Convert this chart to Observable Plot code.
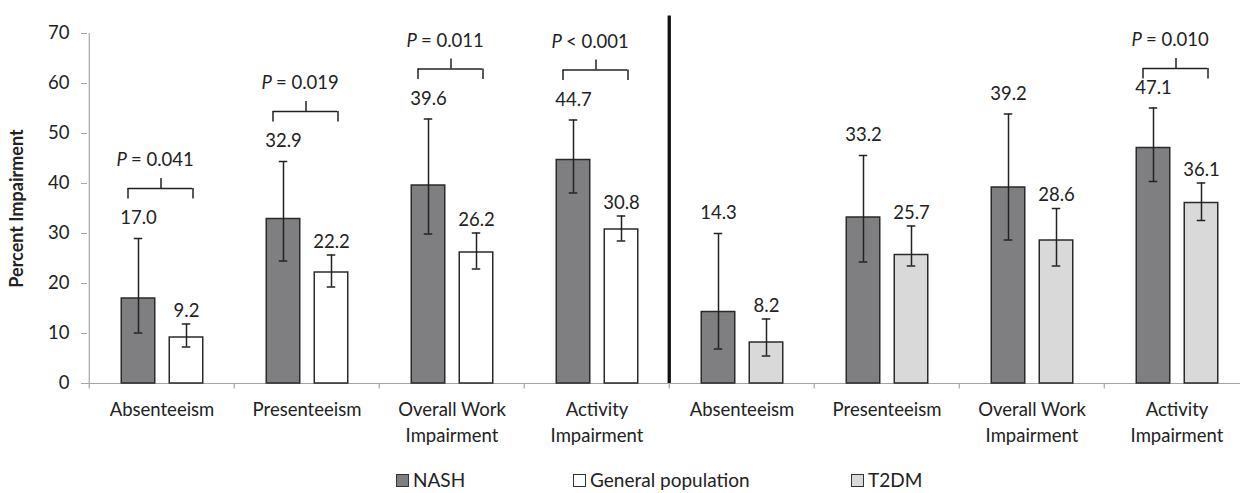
<!DOCTYPE html>
<html>
<head>
<meta charset="utf-8">
<script src="https://cdn.jsdelivr.net/npm/d3@7"></script>
<script src="https://cdn.jsdelivr.net/npm/@observablehq/plot@0.6"></script>
<style>
  body { margin: 0; background: #fff; font-family: Lato, sans-serif; color: #222; overflow: hidden; }
  #legend { height: 20px; line-height: 20px; padding-top: 15px; display: flex; align-items: center; padding-left: 396px; font-size: 19px; }
  .item { display: inline-flex; align-items: center; }
  .swatch { width: 13px; height: 13px; border: 1px solid #333; margin-right: 4px; box-sizing: border-box; }
</style>
</head>
<body>
<div id="chart"></div>
<div id="legend"></div>
<script>
// Work productivity and activity impairment (WPAI), NASH vs comparators
const panels = ["NASH vs General population", "NASH vs T2DM"];
const metrics = ["Absenteeism", "Presenteeism", "Overall Work\nImpairment", "Activity\nImpairment"];
const comparators = ["General population", "General population", "General population", "General population",
                     "T2DM", "T2DM", "T2DM", "T2DM"];

const nashValues = [17.0, 32.9, 39.6, 44.7, 14.3, 33.2, 39.2, 47.1];
const nashLow    = [10.1, 24.5, 29.9, 38.1,  6.9, 24.3, 28.7, 40.4];
const nashHigh   = [29.0, 44.4, 52.9, 52.7, 30.0, 45.6, 53.9, 55.1];

const compValues = [ 9.2, 22.2, 26.2, 30.8,  8.2, 25.7, 28.6, 36.1];
const compLow    = [ 7.3, 19.3, 22.9, 28.5,  5.5, 23.5, 23.5, 32.6];
const compHigh   = [11.9, 25.7, 30.1, 33.5, 12.9, 31.5, 35.0, 40.1];

const pSign  = ["=", "=", "=", "<", null, null, null, "="];
const pValue = ["0.041", "0.019", "0.011", "0.001", null, null, null, "0.010"];

const yTicks = [0, 10, 20, 30, 40, 50, 60, 70];
const yLabel = "Percent Impairment";
const series = ["NASH", "General population", "T2DM"];
const seriesFill = ["#7f7f82", "#ffffff", "#d9d9d9"];

// one row per category group
const rows = nashValues.map((v, i) => ({
  key: panels[Math.floor(i / 4)] + "|" + metrics[i % 4],
  label: metrics[i % 4],
  comparator: comparators[i],
  nash: v, nashLow: nashLow[i], nashHigh: nashHigh[i],
  comp: compValues[i], compLow: compLow[i], compHigh: compHigh[i],
  pSign: pSign[i], pValue: pValue[i]
}));
const keys = rows.map(d => d.key);
const pRows = rows.filter(d => d.pValue != null)
  .map(d => ({...d, bracket: Math.min(d.nashHigh + 10, 63)}));

// layout within each category band
const left = 87, step = 145.5, half = step / 2;
const barW = 34, capW = 9;
const nashDx = -23.5, compDx = 24.5;
const inset = dx => ({insetLeft: half + dx - barW / 2, insetRight: half - dx - barW / 2});
const capInset = dx => ({insetLeft: half + dx - capW / 2, insetRight: half - dx - capW / 2});

const axisGray = "#a6a6a6", ink = "#222", fs = 18.5;

const chart = Plot.plot({
  width: 1240,
  height: 455,
  marginLeft: left,
  marginRight: 0,
  marginTop: 33,
  marginBottom: 72,
  style: {fontFamily: "Lato, sans-serif", fontSize: fs + "px", color: ink, background: "#fff"},
  x: {type: "band", domain: keys, range: [left, left + step * keys.length], padding: 0, axis: null},
  y: {domain: [0, 70]},
  color: {domain: series, range: seriesFill},
  marks: [
    Plot.axisY(yTicks, {tickSize: 6, tickPadding: 12, stroke: axisGray, fill: ink, fontSize: fs, label: null}),
    Plot.text([yLabel], {frameAnchor: "left", textAnchor: "middle", rotate: -90, dx: -70, fontWeight: "bold", fontSize: 18, fill: ink}),
    // axes lines and group boundary ticks
    Plot.ruleY([0], {stroke: axisGray, strokeWidth: 1.2}),
    Plot.ruleX([keys[0]], {x: d => d, dx: -half, y1: 0, y2: 70, stroke: axisGray, strokeWidth: 1.2}),
    Plot.ruleX(keys, {x: d => d, dx: -half, y1: 0, y2: -1.1, stroke: axisGray, strokeWidth: 1.2}),
    // panel separator
    Plot.ruleX([keys[4]], {x: d => d, dx: -half, y1: 0, y2: 73.5, stroke: "#111", strokeWidth: 3.3}),
    // bars
    Plot.barY(rows, {x: "key", y: "nash", fill: () => "NASH", stroke: "#2a2a2a", strokeWidth: 1.5, ...inset(nashDx)}),
    Plot.barY(rows, {x: "key", y: "comp", fill: "comparator", stroke: "#2a2a2a", strokeWidth: 1.5, ...inset(compDx)}),
    // error bars
    Plot.ruleX(rows, {x: "key", y1: "nashLow", y2: "nashHigh", dx: nashDx, stroke: ink, strokeWidth: 1.5}),
    Plot.ruleX(rows, {x: "key", y1: "compLow", y2: "compHigh", dx: compDx, stroke: ink, strokeWidth: 1.5}),
    Plot.tickY(rows, {x: "key", y: "nashHigh", stroke: ink, strokeWidth: 1.5, ...capInset(nashDx)}),
    Plot.tickY(rows, {x: "key", y: "nashLow", stroke: ink, strokeWidth: 1.5, ...capInset(nashDx)}),
    Plot.tickY(rows, {x: "key", y: "compHigh", stroke: ink, strokeWidth: 1.5, ...capInset(compDx)}),
    Plot.tickY(rows, {x: "key", y: "compLow", stroke: ink, strokeWidth: 1.5, ...capInset(compDx)}),
    // value labels
    Plot.text(rows, {x: "key", y: "nashHigh", text: d => d.nash.toFixed(1), dx: nashDx, dy: -20, fontSize: fs, fill: ink}),
    Plot.text(rows, {x: "key", y: "compHigh", text: d => d.comp.toFixed(1), dx: compDx, dy: -13, fontSize: fs, fill: ink}),
    // significance brackets
    Plot.tickY(pRows, {x: "key", y: "bracket", stroke: ink, strokeWidth: 1.5, insetLeft: half - 34, insetRight: half - 31}),
    Plot.ruleX(pRows, {x: "key", y1: "bracket", y2: d => d.bracket - 2.1, dx: -34, stroke: ink, strokeWidth: 1.5}),
    Plot.ruleX(pRows, {x: "key", y1: "bracket", y2: d => d.bracket - 2.1, dx: 31, stroke: ink, strokeWidth: 1.5}),
    Plot.ruleX(pRows, {x: "key", y1: "bracket", y2: d => d.bracket + 2, dx: -1, stroke: ink, strokeWidth: 1.5}),
    Plot.text(pRows, {x: "key", y: "bracket", text: () => "P", fontStyle: "italic", textAnchor: "end", dx: -35, dy: -28, fontSize: fs, fill: ink}),
    Plot.text(pRows, {x: "key", y: "bracket", text: d => d.pSign + " " + d.pValue, textAnchor: "start", dx: -31, dy: -28, fontSize: fs, fill: ink}),
    // category labels
    Plot.text(rows, {x: "key", text: "label", frameAnchor: "bottom", lineAnchor: "top", dy: 15, lineHeight: 1.36, fontSize: fs, fill: ink})
  ]
});
document.getElementById("chart").appendChild(chart);

// legend
const legend = d3.select("#legend");
const widths = [177, 278, 120];
series.forEach((s, i) => {
  const item = legend.append("div").attr("class", "item").style("width", widths[i] + "px");
  item.append("div").attr("class", "swatch").style("background", seriesFill[i]);
  item.append("span").text(s);
});
</script>
</body>
</html>
